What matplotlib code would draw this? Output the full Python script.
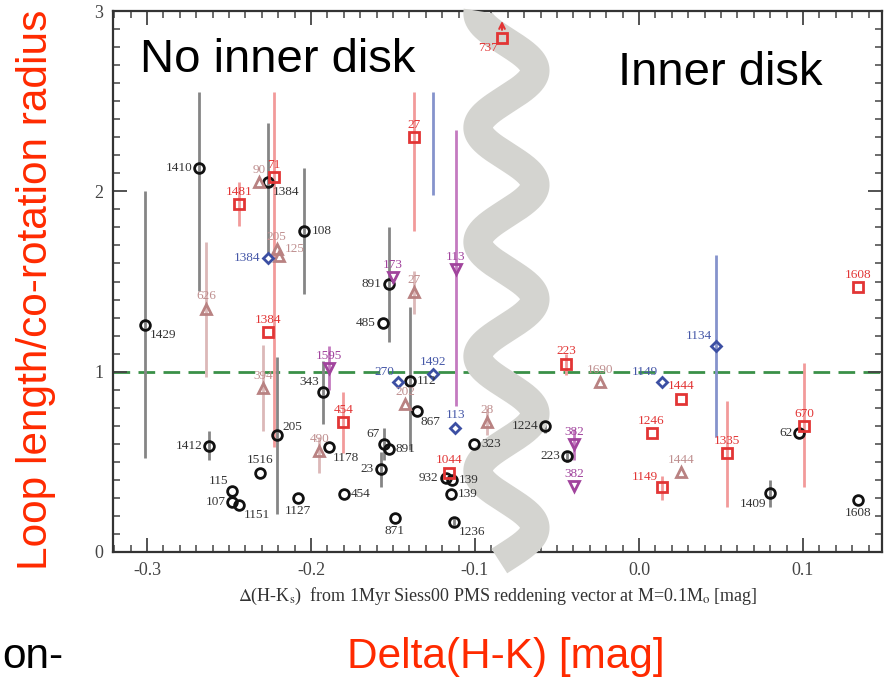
import numpy as np
import matplotlib.pyplot as plt
from matplotlib.ticker import MultipleLocator

plt.rcParams['axes.unicode_minus'] = False
plt.rcParams['mathtext.fontset'] = 'stix'

nan = np.nan

# open black circles
circ_lab = ['1410', '1384', '108', '1429', '891', '485', '343', '205', '1412', '1178',
            '1516', '115', '107', '1151', '1127', '454', '112', '867', '67', '891',
            '23', '932', '139', '139', '871', '1236', '323', '1224', '223', '62',
            '1409', '1608']
circ_x = [-0.268, -0.226, -0.204, -0.301, -0.1527, -0.1563, -0.1925, -0.221, -0.262, -0.189,
          -0.231, -0.248, -0.248, -0.2437, -0.208, -0.180, -0.1396, -0.1356, -0.1553, -0.1524,
          -0.1575, -0.1179, -0.1142, -0.1146, -0.149, -0.1126, -0.1006, -0.0573, -0.044, 0.0977,
          0.0799, 0.1337]
circ_y = [2.13, 2.05, 1.78, 1.26, 1.485, 1.27, 0.885, 0.65, 0.59, 0.58,
          0.44, 0.34, 0.28, 0.26, 0.30, 0.32, 0.95, 0.78, 0.60, 0.57,
          0.46, 0.41, 0.40, 0.32, 0.19, 0.165, 0.60, 0.70, 0.53, 0.66,
          0.325, 0.29]
circ_lo = [1.45, 1.66, 1.43, 0.52, 1.165, nan, 0.71, 0.21, 0.51, nan,
           nan, nan, nan, nan, nan, nan, 0.565, nan, 0.51, nan,
           0.36, nan, nan, nan, nan, 0.14, nan, 0.66, 0.50, nan,
           0.25, nan]
circ_hi = [2.55, 2.38, 2.13, 2.0, 1.80, nan, 1.06, 1.08, 0.67, nan,
           nan, nan, nan, nan, nan, nan, 1.36, nan, 0.69, nan,
           0.556, nan, nan, nan, nan, 0.19, nan, 0.74, 0.56, nan,
           0.40, nan]
circ_side = ['l', 'br', 'r', 'br', 'l', 'l', 'al', 'ar', 'l', 'br',
             'a', 'al', 'l', 'br', 'b', 'r', 'r', 'br', 'al', 'r',
             'l', 'l', 'r', 'r', 'b', 'br', 'r', 'l', 'l', 'l',
             'bl', 'b']

# open red squares
sq_lab = ['71', '1481', '1384', '27', '737', '454', '1044', '223', '1608', '1444',
          '1246', '1335', '670', '1149']
sq_x = [-0.2226, -0.2437, -0.226, -0.1372, -0.0835, -0.1803, -0.1157, -0.0445, 0.1337, 0.0258,
        0.0077, 0.0538, 0.1006, 0.0138]
sq_y = [2.08, 1.93, 1.22, 2.30, 2.85, 0.72, 0.44, 1.045, 1.47, 0.85,
        0.66, 0.55, 0.70, 0.36]
sq_lo = [0.58, 1.81, nan, 1.78, nan, 0.55, nan, 0.98, nan, nan,
         nan, 0.25, 0.36, 0.29]
sq_hi = [2.55, 2.05, nan, 2.55, nan, 0.89, nan, 1.10, nan, nan,
         nan, 0.84, 1.05, 0.42]
sq_lowerlim = [False, False, False, False, True, False, False, False, False, False,
               False, False, False, False]
sq_side = ['a', 'a', 'a', 'a', 'bl', 'a', 'a', 'a', 'a', 'a',
           'a', 'a', 'a', 'al']

# open rosy triangles
tri_lab = ['90', '205', '125', '626', '27', '394', '490', '202', '28', '1690', '1444']
tri_x = [-0.2317, -0.221, -0.2195, -0.264, -0.1374, -0.229, -0.195, -0.1425, -0.0925, -0.0238, 0.0258]
tri_y = [2.05, 1.68, 1.64, 1.35, 1.44, 0.91, 0.56, 0.82, 0.72, 0.94, 0.445]
tri_lo = [nan, nan, nan, 0.97, 1.32, 0.67, 0.44, nan, 0.65, nan, nan]
tri_hi = [nan, nan, nan, 1.72, 1.56, 1.15, 0.64, nan, 0.80, nan, nan]
tri_side = ['a', 'a', 'ar', 'a', 'a', 'a', 'a', 'a', 'a', 'a', 'a']

# open blue diamonds
dia_lab = ['1384', '270', '1492', '113', '1149', '1134']
dia_x = [-0.2264, -0.1467, -0.1254, -0.112, 0.014, 0.0468]
dia_y = [1.63, 0.94, 0.985, 0.69, 0.94, 1.14]
dia_lo = [nan, nan, 1.98, nan, nan, 0.64]
dia_hi = [nan, nan, 2.55, nan, nan, 1.645]
dia_side = ['l', 'al', 'a', 'a', 'al', 'al']

# open magenta down-triangles
dn_lab = ['173', '113', '1595', '382', '382']
dn_x = [-0.150, -0.1116, -0.1888, -0.0394, -0.0394]
dn_y = [1.525, 1.57, 1.02, 0.60, 0.365]
dn_lo = [nan, 0.81, 0.90, 0.51, nan]
dn_hi = [nan, 2.34, 1.14, 0.68, nan]

# wavy separator (centre, amplitude, period, y of a right-hand crest)
wave_y = np.linspace(-0.05, 3.0, 600)
wave_x0, wave_amp, wave_per, wave_peak = -0.0808, 0.0174, 0.634, 2.67

fig = plt.figure(figsize=(8.88, 6.79), dpi=100)
ax = fig.add_axes([113 / 888, 127 / 679, 769 / 888, 541 / 679])

serif = 'Liberation Serif'
offs = {'l': ((-5, 0), 'right', 'center'), 'r': ((5, 0), 'left', 'center'),
        'a': ((0, 4.5), 'center', 'bottom'), 'b': ((0, -5), 'center', 'top'),
        'br': ((3, -3), 'left', 'top'), 'bl': ((-3, -3), 'right', 'top'),
        'al': ((-3, 3), 'right', 'bottom'), 'ar': ((4, 1), 'left', 'bottom')}


def draw_group(xs, ys, lo, hi, labels, sides, marker, col, barcol, labcol, ms):
    for x, l, h in zip(xs, lo, hi):
        if not np.isnan(l):
            ax.vlines(x, l, h, color=barcol, lw=2, zorder=2)
    ax.plot(xs, ys, ls='none', marker=marker, mfc='none', mec=col, mew=2, ms=ms, zorder=4)
    for x, y, t, s in zip(xs, ys, labels, sides):
        off, ha, va = offs[s]
        ax.annotate(t, (x, y), xytext=off, textcoords='offset points', ha=ha, va=va,
                    fontsize=9.5, family=serif, color=labcol, zorder=5)


ax.axhline(1.0, color='#3a9048', lw=2, ls=(0, (6, 3)), zorder=1)

# grey band sits over the dashed line, under the points
wave_x = wave_x0 + wave_amp * np.cos(2 * np.pi * (wave_y - wave_peak) / wave_per)
ax.plot(wave_x, wave_y, color='#d4d4d0', lw=21, solid_capstyle='butt', zorder=3, clip_on=False)

draw_group(circ_x, circ_y, circ_lo, circ_hi, circ_lab, circ_side, 'o',
           '#111111', '#858585', '#333333', 7)
draw_group(sq_x, sq_y, sq_lo, sq_hi, sq_lab, sq_side, 's',
           '#e23535', '#f29a9a', '#e23535', 6.5)
draw_group(tri_x, tri_y, tri_lo, tri_hi, tri_lab, tri_side, '^',
           '#b98282', '#dcb8b8', '#bf8f8f', 7.5)
draw_group(dia_x, dia_y, dia_lo, dia_hi, dia_lab, dia_side, 'D',
           '#3c4fa3', '#8593cc', '#4658a8', 5.5)
draw_group(dn_x, dn_y, dn_lo, dn_hi, dn_lab, ['a'] * len(dn_lab), 'v',
           '#a1449d', '#c47ac0', '#a1449d', 7.5)

for x, y, flag in zip(sq_x, sq_y, sq_lowerlim):
    if flag:
        ax.annotate('', xy=(x, y + 0.11), xytext=(x, y + 0.03),
                    arrowprops=dict(arrowstyle='->', color='#e23535', lw=1.5), zorder=4)

ax.text(-0.3043, 2.66, 'No inner disk', fontsize=34, family='Liberation Sans',
        va='baseline', ha='left', zorder=6)
ax.text(-0.0128, 2.587, 'Inner disk', fontsize=34, family='Liberation Sans',
        va='baseline', ha='left', zorder=6)

ax.set_xlim(-0.3207, 0.1482)
ax.set_ylim(0, 3)
ax.xaxis.set_minor_locator(MultipleLocator(0.01))
ax.yaxis.set_major_locator(MultipleLocator(1))
ax.yaxis.set_minor_locator(MultipleLocator(0.1))
ax.set_xticks([-0.3, -0.2, -0.1, 0.0, 0.1])
ax.set_xticklabels(['-0.3', '-0.2', '-0.1', '0.0', '0.1'])
ax.tick_params(which='both', direction='in', top=True, right=True,
               color='#444444', labelcolor='#444444')
ax.tick_params(which='major', length=10, width=1.3, pad=7)
ax.tick_params(which='minor', length=5, width=1.1)
for lab in ax.get_xticklabels() + ax.get_yticklabels():
    lab.set_family(serif)
    lab.set_fontsize(13)
for sp in ax.spines.values():
    sp.set_linewidth(1.6)
    sp.set_color('#333333')

ax.set_xlabel(r'$\Delta$(H-K$_{\rm s}$)  from 1Myr Siess00 PMS reddening vector at M=0.1M$_{\rm o}$ [mag]',
              family=serif, fontsize=13, color='#333333', labelpad=5)

fig.text(36 / 888, 1 - 290 / 679, 'Loop length/co-rotation radius', rotation=90,
         fontsize=30.5, family='Liberation Sans', color='#ff2a00', ha='center', va='center')
fig.text(506 / 888, 1 - 668 / 679, 'Delta(H-K) [mag]', fontsize=30.5,
         family='Liberation Sans', color='#ff2a00', ha='center', va='baseline')
fig.text(2 / 888, 1 - 668 / 679, 'on-', fontsize=30.5, family='Liberation Sans',
         color='black', ha='left', va='baseline')

fig.savefig('out.png', dpi=100)
